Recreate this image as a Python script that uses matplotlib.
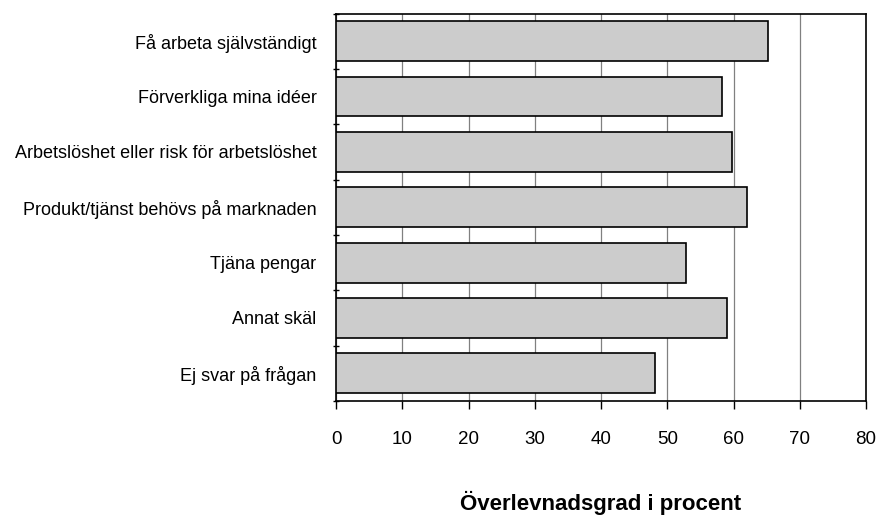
import matplotlib
matplotlib.use("Agg")
import matplotlib.pyplot as plt
import numpy as np

categories = [
    "Få arbeta självständigt",
    "Förverkliga mina idéer",
    "Arbetslöshet eller risk för arbetslöshet",
    "Produkt/tjänst behövs på marknaden",
    "Tjäna pengar",
    "Annat skäl",
    "Ej svar på frågan",
]
values = [65.2, 58.3, 59.7, 62.1, 52.8, 59.0, 48.1]
xticks = [0, 10, 20, 30, 40, 50, 60, 70, 80]
xlabel = "Överlevnadsgrad i procent"

plt.rcParams['font.family'] = ['Liberation Sans', 'DejaVu Sans']

fig = plt.figure(figsize=(8.8, 5.18), dpi=100)
ax = fig.add_axes([336/880, 1 - 401/518, 530/880, (401 - 13.5)/518])

y = np.arange(len(categories))
ax.barh(y, values, height=0.72, color='#cccccc', edgecolor='black', linewidth=1.2, zorder=3)
ax.set_ylim(len(categories) - 0.5, -0.5)
ax.set_xlim(0, 80)
ax.set_xticks(xticks)
ax.set_xticklabels([str(t) for t in xticks], fontsize=13.5)
ax.set_yticks(y)
ax.set_yticklabels(categories, fontsize=13)
ax.tick_params(axis='y', which='major', length=0, pad=14)
ax.set_yticks(np.arange(-0.5, len(categories)), minor=True)
ax.tick_params(axis='y', which='minor', length=5, direction='inout', width=1)
ax.tick_params(axis='x', length=5.8, width=1, pad=16, direction='out')
ax.grid(axis='x', color='#808080', linewidth=0.9, zorder=0)
for s in ax.spines.values():
    s.set_color('black')
    s.set_linewidth(1.2)
ax.set_xlabel(xlabel, fontsize=16, fontweight='bold', labelpad=31)

fig.savefig("out.png", dpi=100)
